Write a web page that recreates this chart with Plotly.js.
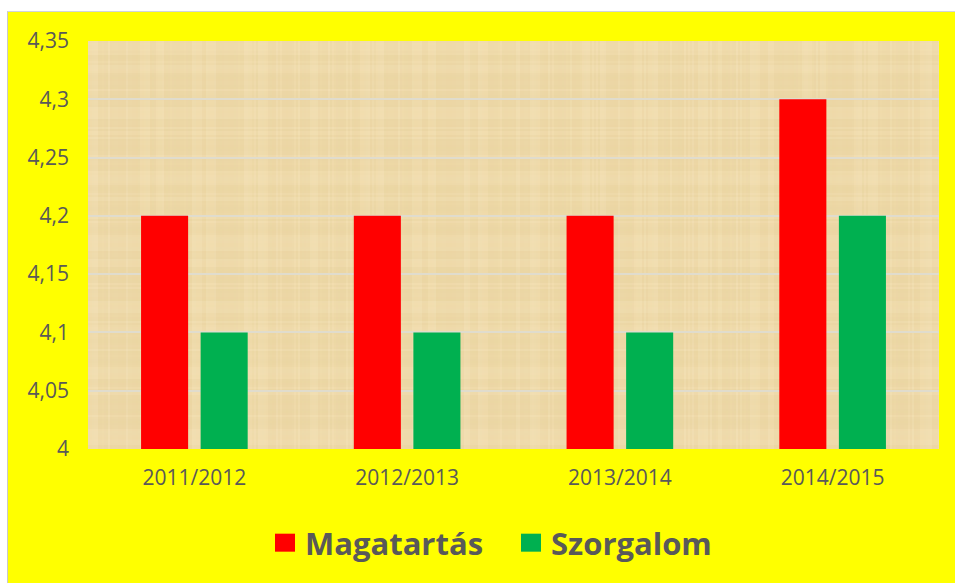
<!DOCTYPE html>
<html>
<head>
<meta charset="utf-8">
<script src="https://cdn.plot.ly/plotly-3.0.1.min.js"></script>
<style>
  html, body { margin: 0; padding: 0; background: #ffffff; width: 955px; height: 583px; overflow: hidden; }
  #frame { position: absolute; left: 7px; top: 11px; width: 948px; height: 572px; background: #FFFF00;
           border-left: 1px solid #c9c9c9; border-top: 1px solid #d0d4dc; }
  #chart { position: absolute; left: 0px; top: 0px; width: 947px; height: 571px; }
</style>
</head>
<body>
<div id="frame"><div id="chart"></div></div>
<script>
// ---- data ----
const categories = ["2011/2012", "2012/2013", "2013/2014", "2014/2015"];
const magatartas = [4.2, 4.2, 4.2, 4.3];
const szorgalom = [4.1, 4.1, 4.1, 4.2];
const seriesNames = ["Magatartás", "Szorgalom"];

// ---- papyrus-like texture (decorative background, deterministic) ----
function makeTexture(w, h) {
  const c = document.createElement("canvas");
  c.width = w; c.height = h;
  const g = c.getContext("2d");
  g.fillStyle = "#F0DBAA";
  g.fillRect(0, 0, w, h);
  for (let x = 0; x < w; x += 2) {
    const s = Math.sin(x * 0.37) + Math.sin(x * 0.113 + 1.3) + 0.6 * Math.sin(x * 1.71);
    const a = 0.06 + 0.07 * Math.abs(Math.sin(x * 0.23));
    g.fillStyle = s > 0.4 ? "rgba(250,238,205," + a + ")" : "rgba(210,180,120," + (a * 0.5) + ")";
    g.fillRect(x, 0, 2, h);
  }
  for (let y = 0; y < h; y += 2) {
    const s = Math.sin(y * 0.29) + Math.sin(y * 0.097 + 0.7) + 0.6 * Math.sin(y * 1.33);
    const a = 0.05 + 0.06 * Math.abs(Math.sin(y * 0.31));
    g.fillStyle = s > 0.4 ? "rgba(250,238,208," + a + ")" : "rgba(205,175,115," + (a * 0.5) + ")";
    g.fillRect(0, y, w, 2);
  }
  return c.toDataURL("image/png");
}

const textColor = "#595959";
const font = "Open Sans, Liberation Sans, sans-serif";

const traces = [
  { type: "bar", name: seriesNames[0], x: categories, y: magatartas,
    marker: { color: "#FF0000" }, hoverinfo: "skip" },
  { type: "bar", name: seriesNames[1], x: categories, y: szorgalom,
    marker: { color: "#00B050" }, hoverinfo: "skip" }
];

const layout = {
  width: 947, height: 571,
  paper_bgcolor: "#FFFF00",
  plot_bgcolor: "#F0DBAA",
  separators: ", ",
  margin: { l: 80, r: 16, t: 29, b: 134, pad: 0 },
  barmode: "group",
  bargap: 0.44,
  bargroupgap: 0.21,
  font: { family: font, color: textColor, size: 21 },
  xaxis: {
    type: "category",
    showgrid: false, zeroline: false, showline: false,
    ticks: "", ticklabelstandoff: 14,
    tickfont: { family: font, size: 21, color: textColor }
  },
  yaxis: {
    range: [4, 4.35], dtick: 0.05, tick0: 4,
    showgrid: true, gridcolor: "#E0DCCD", gridwidth: 2,
    zeroline: false, showline: false, ticks: "",
    ticklabelstandoff: 18,
    tickfont: { family: font, size: 21, color: textColor }
  },
  showlegend: true,
  legend: {
    orientation: "h",
    xref: "container", yref: "container",
    x: (265 - 8) / 947, xanchor: "left",
    y: 0.07, yanchor: "middle",
    bgcolor: "rgba(0,0,0,0)",
    font: { family: font, size: 31, color: textColor, weight: "bold" },
    entrywidth: 201, entrywidthmode: "pixels",
    itemwidth: 30
  },
  images: [{
    source: makeTexture(851, 408),
    xref: "paper", yref: "paper",
    x: 0, y: 1, sizex: 1, sizey: 1,
    xanchor: "left", yanchor: "top",
    sizing: "stretch", layer: "below"
  }]
};

Plotly.newPlot("chart", traces, layout, { displayModeBar: false, staticPlot: true }).then(function (gd) {
  gd.querySelectorAll(".legend .legendpoints path").forEach(function (p) {
    p.setAttribute("d", "M10,9H-10V-9H10Z");
  });
});
</script>
</body>
</html>
